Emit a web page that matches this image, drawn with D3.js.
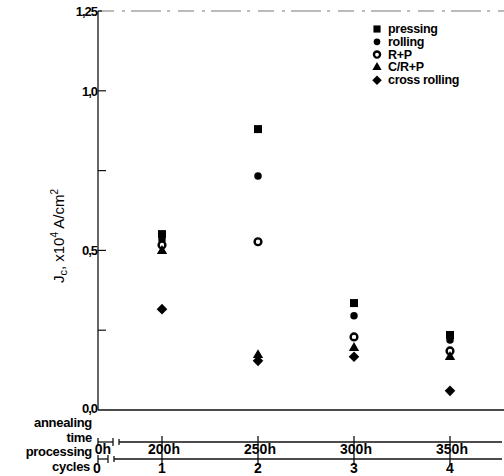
<!DOCTYPE html>
<html>
<head>
<meta charset="utf-8">
<script src="https://cdn.jsdelivr.net/npm/d3@7"></script>
<style>
body { margin: 0; background: #fff; }
text { font-family: "Liberation Sans", Arial, sans-serif; fill: #000; }
</style>
</head>
<body>
<script>
// data (Jc in 10^4 A/cm2)
var cycles = [1, 2, 3, 4];
var annealLabels = ["200h", "250h", "300h", "350h"];
var cycleLabels = ["1", "2", "3", "4"];
var pressing = [0.551, 0.880, 0.335, 0.235];
var rolling = [0.533, 0.733, 0.295, 0.219];
var rp = [0.517, 0.527, 0.229, 0.185];
var crp = [0.498, 0.172, 0.194, 0.166];
var crossRolling = [0.316, 0.154, 0.167, 0.060];
var yTicks = [0, 0.25, 0.5, 0.75, 1.0, 1.25];
var yTickLabels = {"0": "0,0", "0.5": "0,5", "1": "1,0", "1.25": "1,25"};

var width = 504, height = 476;
var x0 = 98, xRight = 504;

var svg = d3.select("body").append("svg")
    .attr("width", width)
    .attr("height", height);

var x = d3.scaleLinear().domain([1, 4]).range([162, 450]);
var y = d3.scaleLinear().domain([0, 1.25]).range([410, 11]);

// frame: left axis, bottom line, dashed top
svg.append("line")
    .attr("x1", x0).attr("x2", x0)
    .attr("y1", y(1.25)).attr("y2", y(0))
    .attr("stroke", "#333").attr("stroke-width", 1.5);
svg.append("line")
    .attr("x1", x0).attr("x2", xRight)
    .attr("y1", y(0)).attr("y2", y(0))
    .attr("stroke", "#111").attr("stroke-width", 1.5);
svg.append("line")
    .attr("x1", x0).attr("x2", xRight)
    .attr("y1", y(1.25)).attr("y2", y(1.25))
    .attr("stroke", "#777").attr("stroke-width", 1)
    .attr("stroke-dasharray", "16,8,3,6,30,6,3,8");

// y ticks (inward)
svg.append("g").selectAll("line")
    .data(yTicks.filter(function(d) { return d > 0; }))
    .enter().append("line")
    .attr("x1", x0).attr("x2", function(d) { return d == 1.25 ? x0 + 4 : x0 + 8; })
    .attr("y1", function(d) { return y(d); })
    .attr("y2", function(d) { return y(d); })
    .attr("stroke", "#111").attr("stroke-width", 1.2);

svg.append("g").selectAll("text")
    .data(yTicks.filter(function(d) { return yTickLabels[String(d)]; }))
    .enter().append("text")
    .attr("x", x0 - 1)
    .attr("y", function(d) { return y(d) + (d == 0 ? 3 : 5); })
    .attr("text-anchor", "end")
    .attr("font-size", 13).attr("font-weight", "bold")
    .attr("letter-spacing", -1)
    .text(function(d) { return yTickLabels[String(d)]; });

// y title
var yt = svg.append("text")
    .attr("transform", "translate(64," + 236 + ") rotate(-90)")
    .attr("text-anchor", "middle")
    .attr("font-size", 15);
yt.append("tspan").text("J");
yt.append("tspan").attr("font-size", 11).attr("dy", 3).text("c");
yt.append("tspan").attr("dy", -3).text(",  x10");
yt.append("tspan").attr("font-size", 10).attr("dy", -6).text("4");
yt.append("tspan").attr("dy", 6).text(" A/cm");
yt.append("tspan").attr("font-size", 10).attr("dy", -6).text("2");

// bottom double axis
var yAnn = 442, yCyc = 459;
function brokenAxis(yy, breakEnd, restart) {
    var g = svg.append("g").attr("stroke", "#111").attr("stroke-width", 1.3);
    g.append("line").attr("x1", x0).attr("x2", breakEnd).attr("y1", yy).attr("y2", yy);
    g.append("line").attr("x1", x0).attr("x2", x0).attr("y1", yy - 4).attr("y2", yy + 4);
    g.append("line").attr("x1", breakEnd).attr("x2", breakEnd).attr("y1", yy - 4).attr("y2", yy + 4);
    g.append("line").attr("x1", restart).attr("x2", restart).attr("y1", yy - 3).attr("y2", yy + 3);
    g.append("line").attr("x1", restart).attr("x2", xRight - 2).attr("y1", yy).attr("y2", yy);
    g.selectAll("line.t").data(cycles).enter().append("line")
        .attr("class", "t")
        .attr("x1", function(d) { return x(d); })
        .attr("x2", function(d) { return x(d); })
        .attr("y1", yy - 6).attr("y2", yy + 6);
}
brokenAxis(yAnn, 113, 119);
brokenAxis(yCyc, 108, 114);

svg.append("g").selectAll("text")
    .data(cycles)
    .enter().append("text")
    .attr("x", function(d) { return x(d) + 2; })
    .attr("y", yAnn + 12)
    .attr("text-anchor", "middle")
    .attr("font-size", 14).attr("font-weight", "bold")
    .text(function(d, i) { return annealLabels[i]; });
svg.append("g").selectAll("text")
    .data(cycles)
    .enter().append("text")
    .attr("x", function(d) { return x(d); })
    .attr("y", yCyc + 14)
    .attr("text-anchor", "middle")
    .attr("font-size", 14).attr("font-weight", "bold")
    .text(function(d, i) { return cycleLabels[i]; });

svg.append("text").attr("x", x0 + 5).attr("y", yAnn + 12)
    .attr("text-anchor", "middle").attr("font-size", 14).attr("font-weight", "bold").text("0h");
svg.append("text").attr("x", x0 - 1).attr("y", yCyc + 14)
    .attr("text-anchor", "middle").attr("font-size", 14).attr("font-weight", "bold").text("0");

var leftLabels = [["annealing", 427], ["time", 442], ["processing", 456], ["cycles", 471]];
svg.append("g").selectAll("text")
    .data(leftLabels)
    .enter().append("text")
    .attr("x", function(d) { return d[0] == "cycles" ? 90 : 92; })
    .attr("y", function(d) { return d[1]; })
    .attr("text-anchor", "end")
    .attr("font-size", 13).attr("font-weight", "bold")
    .attr("letter-spacing", -0.3)
    .text(function(d) { return d[0]; });

// series
var series = [
    {name: "pressing", values: pressing, type: d3.symbolSquare, size: 64, fill: "#000"},
    {name: "rolling", values: rolling, type: d3.symbolCircle, size: 44, fill: "#000"},
    {name: "R+P", values: rp, type: d3.symbolCircle, size: 36, fill: "#fff", stroke: 2.4},
    {name: "C/R+P", values: crp, type: d3.symbolTriangle, size: 46, fill: "#000"},
    {name: "cross rolling", values: crossRolling, type: d3.symbolSquare, size: 56, fill: "#000", rot: 45}
];

series.forEach(function(s) {
    svg.append("g").selectAll("path")
        .data(s.values)
        .enter().append("path")
        .attr("d", d3.symbol().type(s.type).size(s.size))
        .attr("transform", function(d, i) {
            return "translate(" + x(cycles[i]) + "," + y(d) + ") rotate(" + (s.rot || 0) + ")";
        })
        .attr("fill", s.fill)
        .attr("stroke", "#000")
        .attr("stroke-width", s.stroke || 0);
});

// legend
var legend = svg.append("g").attr("transform", "translate(377,29)");
var item = legend.selectAll("g")
    .data(series)
    .enter().append("g")
    .attr("transform", function(d, i) { return "translate(0," + (i * 12.8) + ")"; });
item.append("path")
    .attr("d", function(d) { return d3.symbol().type(d.type).size(d.size * 0.8)(); })
    .attr("transform", function(d) { return "rotate(" + (d.rot || 0) + ")"; })
    .attr("fill", function(d) { return d.fill; })
    .attr("stroke", "#000")
    .attr("stroke-width", function(d) { return d.stroke || 0; });
item.append("text")
    .attr("x", 11)
    .attr("y", 4)
    .attr("font-size", 12.5).attr("font-weight", "bold")
    .attr("letter-spacing", -0.3)
    .text(function(d) { return d.name; });
</script>
</body>
</html>
